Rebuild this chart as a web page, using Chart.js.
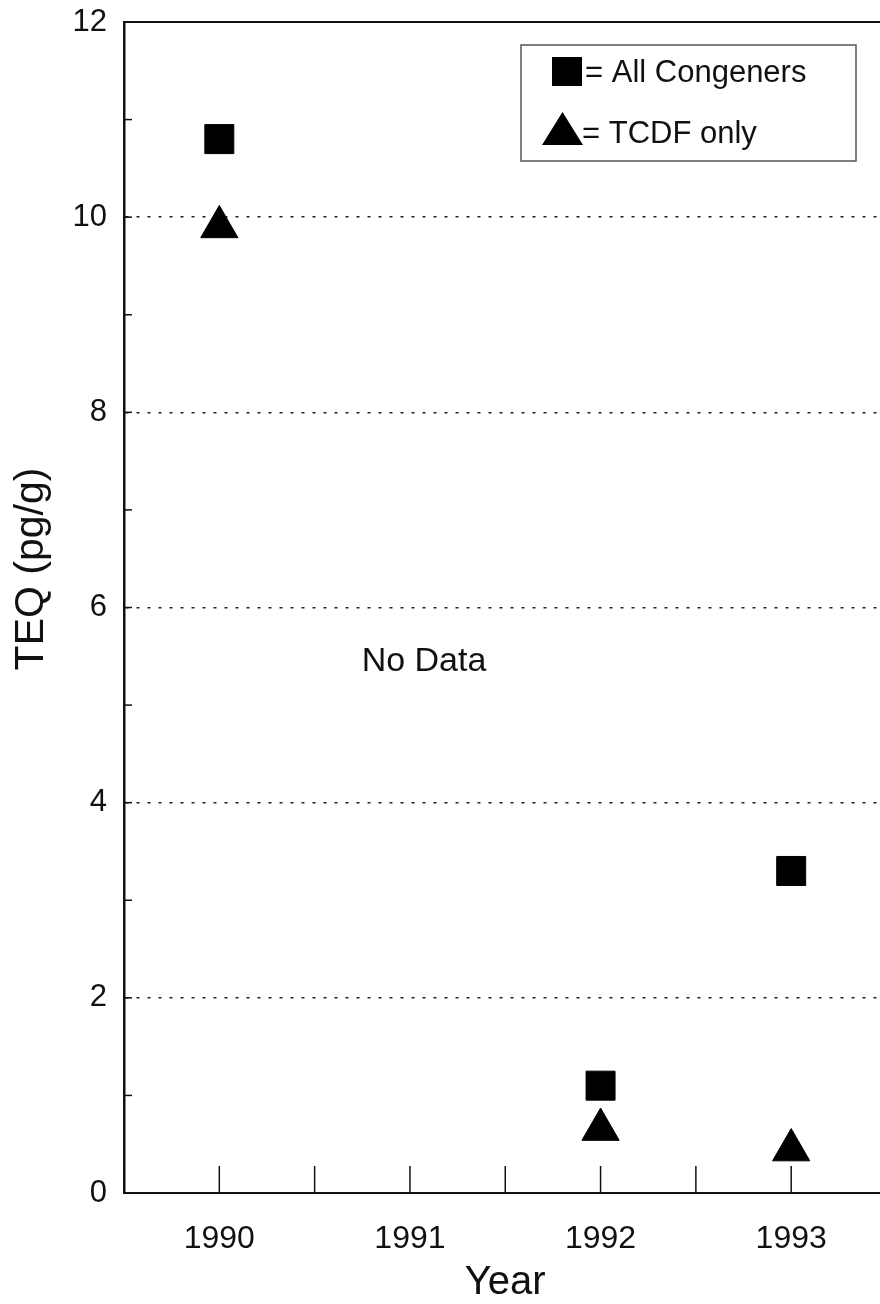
<!DOCTYPE html>
<html>
<head>
<meta charset="utf-8">
<script src="https://cdn.jsdelivr.net/npm/chart.js"></script>
<style>
  html, body { margin: 0; padding: 0; background: #fff; overflow: hidden; }
  #wrap { width: 900px; height: 1310px; }
</style>
</head>
<body>
<div id="wrap"><canvas id="teqChart" width="900" height="1310"></canvas></div>
<script>
// sampling years and TEQ (pg/g)
var years = [1990, 1992, 1993];
var allCongeners = [10.8, 1.1, 3.3];
var tcdfOnly = [9.9, 0.65, 0.44];

var yTickLabels = [0, 2, 4, 6, 8, 10, 12];
var yearLabels = [1990, 1991, 1992, 1993];
var seriesNames = ['All Congeners', 'TCDF only'];
var noDataNote = 'No Data';

var FONT = '"Liberation Sans", Arial, Helvetica, sans-serif';
var INK = '#111';

function toPoints(xs, ys) {
    return xs.map(function (x, i) { return { x: x, y: ys[i] }; });
}

// frame bits the library doesn't do: top border, inward tick marks, legend box, notes
var framePlugin = {
    id: 'frame',
    beforeDatasetsDraw: function (chart) {
        var ctx = chart.ctx, a = chart.chartArea;
        var xs = chart.scales.x, ys = chart.scales.y;
        ctx.save();
        ctx.strokeStyle = INK;
        ctx.lineWidth = 2;
        ctx.beginPath();
        ctx.moveTo(a.left, a.top);
        ctx.lineTo(a.right, a.top);
        ctx.stroke();

        ctx.lineWidth = 1.5;
        xs.ticks.forEach(function (t) {
            var px = xs.getPixelForValue(t.value);
            ctx.beginPath();
            ctx.moveTo(px, a.bottom);
            ctx.lineTo(px, a.bottom - 27);
            ctx.stroke();
        });
        ys.ticks.forEach(function (t) {
            var py = ys.getPixelForValue(t.value);
            ctx.beginPath();
            ctx.moveTo(a.left, py);
            ctx.lineTo(a.left + 8, py);
            ctx.stroke();
        });
        ctx.restore();
    },
    afterDraw: function (chart) {
        var ctx = chart.ctx;
        ctx.save();

        // legend box
        ctx.strokeStyle = '#555';
        ctx.lineWidth = 1.5;
        ctx.strokeRect(521, 45, 335, 116);
        ctx.fillStyle = '#000';
        ctx.fillRect(552, 57, 30, 29);
        ctx.beginPath();
        ctx.moveTo(542, 145);
        ctx.lineTo(583, 145);
        ctx.lineTo(562.5, 112);
        ctx.closePath();
        ctx.fill();

        ctx.fillStyle = INK;
        ctx.font = '31px ' + FONT;
        ctx.textAlign = 'left';
        ctx.textBaseline = 'alphabetic';
        ctx.fillText('= ' + seriesNames[0], 585, 82);
        ctx.fillText('= ' + seriesNames[1], 582, 143);

        // note for the missing year
        ctx.font = '34px ' + FONT;
        ctx.textAlign = 'center';
        ctx.fillText(noDataNote, 424, 671);

        // y axis title
        ctx.translate(32, 569);
        ctx.rotate(-Math.PI / 2);
        ctx.font = '41px ' + FONT;
        ctx.textAlign = 'center';
        ctx.textBaseline = 'middle';
        ctx.fillText('TEQ (pg/g)', 0, 0);
        ctx.restore();
    }
};

var ctx = document.getElementById('teqChart').getContext('2d');

new Chart(ctx, {
    type: 'scatter',
    data: {
        datasets: [{
            label: seriesNames[0],
            data: toPoints(years, allCongeners),
            pointStyle: 'rect',
            pointRadius: 20.5,
            pointBorderWidth: 1,
            backgroundColor: '#000',
            borderColor: '#000'
        }, {
            label: seriesNames[1],
            data: toPoints(years, tcdfOnly),
            pointStyle: 'triangle',
            pointRadius: 21.5,
            pointBorderWidth: 1,
            backgroundColor: '#000',
            borderColor: '#000'
        }]
    },
    options: {
        responsive: false,
        animation: false,
        events: [],
        layout: {
            autoPadding: false,
            padding: { top: 22, right: 13.5, bottom: 0, left: 0 }
        },
        plugins: {
            legend: { display: false },
            tooltip: { enabled: false }
        },
        scales: {
            x: {
                type: 'linear',
                min: 1989.5,
                max: 1993.5,
                afterFit: function (s) {
                    s.height = 117;
                    s.paddingLeft = 0;
                    s.paddingRight = 0;
                },
                grid: { display: false, drawTicks: false },
                border: { display: true, color: INK, width: 2 },
                ticks: {
                    stepSize: 0.5,
                    autoSkip: false,
                    maxRotation: 0,
                    padding: 27,
                    color: INK,
                    font: { family: FONT, size: 32 },
                    callback: function (v) {
                        return yearLabels.indexOf(v) >= 0 ? String(v) : '';
                    }
                },
                title: {
                    display: true,
                    text: 'Year',
                    color: INK,
                    font: { family: FONT, size: 40 },
                    padding: { top: 0, bottom: 3 }
                }
            },
            y: {
                min: 0,
                max: 12,
                afterFit: function (s) {
                    s.width = 124;
                    s.paddingTop = 0;
                    s.paddingBottom = 0;
                },
                grid: {
                    drawTicks: false,
                    lineWidth: 1.5,
                    color: function (c) {
                        var v = c.tick ? c.tick.value : 0;
                        return (v > 0 && v < 12 && v % 2 === 0) ? '#222' : 'rgba(0,0,0,0)';
                    }
                },
                border: { display: true, color: INK, width: 2.5, dash: [3, 8] },
                ticks: {
                    stepSize: 1,
                    autoSkip: false,
                    padding: 17,
                    color: INK,
                    font: { family: FONT, size: 31 },
                    callback: function (v) {
                        return yTickLabels.indexOf(v) >= 0 ? String(v) : '';
                    }
                }
            }
        }
    },
    plugins: [framePlugin]
});
</script>
</body>
</html>
